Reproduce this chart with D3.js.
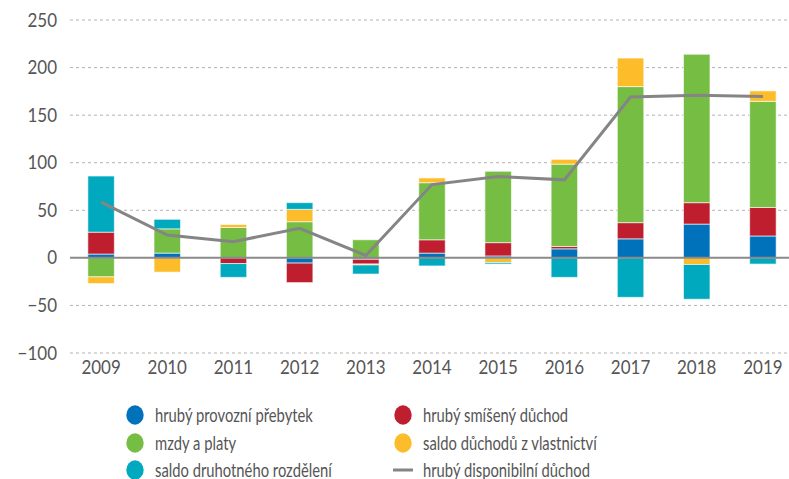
<!DOCTYPE html>
<html>
<head>
<meta charset="utf-8">
<script src="https://cdn.jsdelivr.net/npm/d3@7"></script>
<style>
  body { margin: 0; background: #fff; }
  text { font-family: Lato, "Open Sans", sans-serif; fill: #555; }
</style>
</head>
<body>
<div id="chart"></div>
<script>
// Data
const years = ['2009', '2010', '2011', '2012', '2013', '2014', '2015', '2016', '2017', '2018', '2019'];
const provozniPrebytek = [4, 5, 0, -5.5, -1.5, 5, 2, 9.5, 20, 35.5, 23];
const smisenyDuchod = [23, 0, -6, -20.5, -5, 14, 14, 2.5, 17, 22.5, 30];
const mzdyPlaty = [-20, 25.5, 32, 38, 19, 60, 75, 86.5, 143, 156, 111.5];
const saldoVlastnictvi = [-7, -15, 3, 13, -1, 5, -5, 5, 30, -7, 11];
const saldoDruhotneho = [59, 10, -14.5, 7, -9.5, -8.5, -1.5, -20.5, -41.5, -36.5, -6.5];
const disponibilniDuchod = [58.5, 24, 17, 31, 2.5, 77, 85.5, 82, 169, 171, 169.5];
const yTicks = [-100, -50, 0, 50, 100, 150, 200, 250];

const series = [
    { key: 'prov', name: 'hrubý provozní přebytek', color: '#0072bc', values: provozniPrebytek },
    { key: 'smis', name: 'hrubý smíšený důchod', color: '#be1e2d', values: smisenyDuchod },
    { key: 'mzdy', name: 'mzdy a platy', color: '#76bd43', values: mzdyPlaty },
    { key: 'vlast', name: 'saldo důchodů z vlastnictví', color: '#fdbd2b', values: saldoVlastnictvi },
    { key: 'druh', name: 'saldo druhotného rozdělení', color: '#00a9be', values: saldoDruhotneho }
];

const width = 789, height = 479;

const svg = d3.select('#chart')
    .append('svg')
    .attr('width', width)
    .attr('height', height);

const x = d3.scaleBand()
    .domain(years)
    .range([68, 796])
    .paddingInner(0.6)
    .paddingOuter(0.3);

const y = d3.scaleLinear()
    .domain([-100, 250])
    .range([353, 20]);

// Gridlines
svg.append('g')
    .selectAll('line')
    .data(yTicks.filter(d => d !== 0))
    .enter()
    .append('line')
    .attr('x1', 70)
    .attr('x2', width)
    .attr('y1', d => y(d))
    .attr('y2', d => y(d))
    .attr('stroke', '#b3b3b3')
    .attr('stroke-width', 1)
    .attr('stroke-dasharray', '3,3');

// Y axis labels (text is a bit taller than wide in the original)
const yAxis = d3.axisLeft(y)
    .tickValues(yTicks)
    .tickSize(0)
    .tickPadding(0)
    .tickFormat(d => d < 0 ? '\u2212' + Math.abs(d) : d);

svg.append('g')
    .attr('transform', 'translate(57,0)')
    .call(yAxis)
    .call(g => g.select('.domain').remove())
    .selectAll('text')
    .style('font-size', '17px')
    .attr('transform', 'scale(1,1.12)')
    .attr('fill', '#555');

// Stacked bars
const table = years.map((yr, i) => {
    const row = { year: yr };
    series.forEach(s => { row[s.key] = s.values[i]; });
    return row;
});

const stack = d3.stack()
    .keys(series.map(s => s.key))
    .offset(d3.stackOffsetDiverging);

const stacked = stack(table);

svg.append('g')
    .selectAll('g')
    .data(stacked)
    .enter()
    .append('g')
    .attr('fill', (d, i) => series[i].color)
    .selectAll('rect')
    .data(d => d)
    .enter()
    .append('rect')
    .attr('x', d => x(d.data.year))
    .attr('width', x.bandwidth())
    .attr('y', d => y(Math.max(d[0], d[1])))
    .attr('height', d => Math.abs(y(d[0]) - y(d[1])))
    .attr('stroke', '#ffffff')
    .attr('stroke-opacity', 0.6)
    .attr('stroke-width', 1);

// Zero line
svg.append('line')
    .attr('x1', 70)
    .attr('x2', width)
    .attr('y1', y(0))
    .attr('y2', y(0))
    .attr('stroke', '#8a8a8a')
    .attr('stroke-width', 2);

// Disposable income line
const line = d3.line()
    .x((d, i) => x(years[i]) + x.bandwidth() / 2)
    .y(d => y(d));

svg.append('path')
    .datum(disponibilniDuchod)
    .attr('d', line)
    .attr('fill', 'none')
    .attr('stroke', '#858585')
    .attr('stroke-width', 3);

// X axis labels
const xAxis = d3.axisBottom(x)
    .tickSize(0)
    .tickPadding(0);

svg.append('g')
    .attr('transform', 'translate(0,360)')
    .call(xAxis)
    .call(g => g.select('.domain').remove())
    .selectAll('text')
    .style('font-size', '17px')
    .attr('transform', 'scale(1,1.12)')
    .attr('fill', '#555');

// Legend
const legendItems = [
    { s: series[0], col: 0, row: 0 },
    { s: series[1], col: 1, row: 0 },
    { s: series[2], col: 0, row: 1 },
    { s: series[3], col: 1, row: 1 },
    { s: series[4], col: 0, row: 2 }
];
const colX = [135, 403];
const rowY = [415, 443, 470];

const legend = svg.append('g');

legend.selectAll('ellipse')
    .data(legendItems)
    .enter()
    .append('ellipse')
    .attr('cx', d => colX[d.col])
    .attr('cy', d => rowY[d.row])
    .attr('rx', 8.7)
    .attr('ry', 9.7)
    .attr('fill', d => d.s.color);

const legendLabel = (lx, ly, label) => legend.append('text')
    .attr('transform', `translate(${lx},${ly}) scale(0.87,1.1)`)
    .attr('dy', '0.35em')
    .style('font-size', '17px')
    .text(label);

legendItems.forEach(d => legendLabel(colX[d.col] + 20, rowY[d.row], d.s.name));

legend.append('line')
    .attr('x1', 393)
    .attr('x2', 413)
    .attr('y1', rowY[2])
    .attr('y2', rowY[2])
    .attr('stroke', '#858585')
    .attr('stroke-width', 3);

legendLabel(colX[1] + 20, rowY[2], 'hrubý disponibilní důchod');
</script>
</body>
</html>
